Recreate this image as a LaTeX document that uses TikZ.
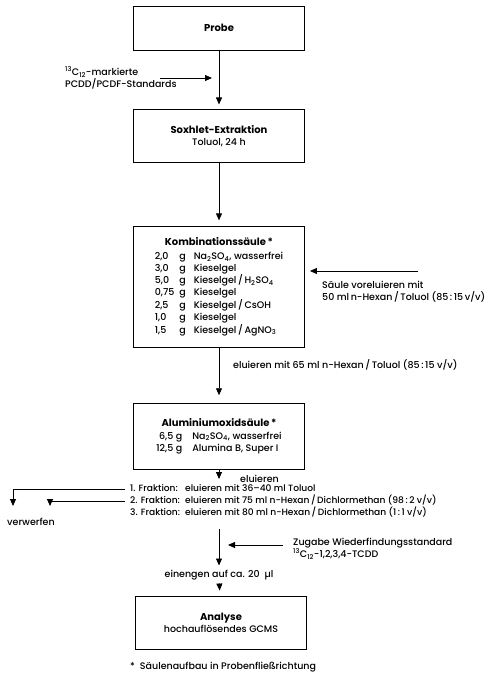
\documentclass[tikz,border=0pt]{standalone}
\usepackage{fontspec}
\setmainfont{Poppins}[UprightFont=* Medium,BoldFont=* Bold]
\usetikzlibrary{positioning,arrows.meta}
\tikzset{
  kasten/.style={rectangle,draw,line width=0.9pt,minimum width=171pt,align=center,inner sep=3pt},
  pfeil/.style={-{Triangle[length=7pt,width=6pt]},line width=0.8pt},
  zeile/.style={inner sep=0pt,anchor=mid west,font=\fontsize{9.1}{12}\selectfont},
  notiz/.style={inner sep=0pt,align=left,anchor=west},
}

\begin{document}
\begin{tikzpicture}[x=1pt,y=-1pt,font=\fontsize{9.5}{12}\selectfont]
  \useasboundingbox (0,0) rectangle (486,681);
  % Kaesten
  \node[kasten,minimum height=44pt] (probe) at (219,28) {{\fontsize{10}{12}\selectfont\bfseries Probe}};
  \node[kasten,minimum height=53pt,below=59pt of probe] (soxh) {{\fontsize{10}{14}\selectfont\bfseries Soxhlet-Extraktion}\\Toluol, 24 h};
  \node[kasten,minimum height=121pt,below=63pt of soxh] (kombi) {{\fontsize{10}{12}\selectfont\bfseries Kombinationssäule\,*}\\[4pt]
    \begin{tabular}{@{}l@{\hspace{5pt}}l@{\hspace{8pt}}l@{}}
      2,0 & g & Na\textsubscript{2}SO\textsubscript{4}, wasserfrei\\
      3,0 & g & Kieselgel\\
      5,0 & g & Kieselgel\,/\,H\textsubscript{2}SO\textsubscript{4}\\
      0,75 & g & Kieselgel\\
      2,5 & g & Kieselgel\,/\,CsOH\\
      1,0 & g & Kieselgel\\
      1,5 & g & Kieselgel\,/\,AgNO\textsubscript{3}
    \end{tabular}};
  \node[kasten,minimum height=66pt,below=55pt of kombi] (alox) {{\fontsize{10}{12}\selectfont\bfseries Aluminiumoxidsäule\,*}\\[3pt]
    \begin{tabular}{@{}r@{\hspace{10pt}}l@{}}
      6,5 g & Na\textsubscript{2}SO\textsubscript{4}, wasserfrei\\
      12,5 g & Alumina B, Super I
    \end{tabular}};
  \node[kasten,minimum height=53pt] (anal) at (221,622.5) {{\fontsize{10}{15}\selectfont\bfseries Analyse}\\hochauflösendes GCMS};

  % Zugaben und Beschriftungen
  \coordinate (stdanf) at (160,78);
  \coordinate (stdend) at (212,78);
  \node[notiz] (stdtext) at (65,78) {\textsuperscript{13}C\textsubscript{12}-markierte\\PCDD/PCDF-Standards};
  \coordinate (vor) at (418,271);
  \node[notiz] (vortext) at (322,292) {Säule voreluieren mit\\50 ml\,n-Hexan\,/\,Toluol (85\,:\,15\,v/v)};
  \node[notiz] (eluA) at (233,365) {eluieren mit 65 ml n-Hexan\,/\,Toluol (85\,:\,15 v/v)};
  \coordinate (eluend) at (219,479);
  \node[notiz] (eluB) at (240,479) {eluieren};

  % Fraktionen
  \node[zeile] (f1) at (130,489) {\makebox[55pt][l]{1. Fraktion:}eluieren mit 36–40 ml Toluol};
  \node[zeile] (f2) at (130,501) {\makebox[55pt][l]{2. Fraktion:}eluieren mit 75 ml n-Hexan\,/\,Dichlormethan (98\,:\,2 v/v)};
  \node[zeile] (f3) at (130,513) {\makebox[55pt][l]{3. Fraktion:}eluieren mit 80 ml n-Hexan\,/\,Dichlormethan (1\,:\,1 v/v)};
  \coordinate (weg1) at (13,506);
  \coordinate (weg2) at (50,506);
  \node (verw) at (31,522) {verwerfen};

  \coordinate (sammel) at (219,529);
  \coordinate (zug) at (283,545);
  \node[notiz] (zugtext) at (293,549) {Zugabe Wiederfindungsstandard\\\textsuperscript{13}C\textsubscript{12}-1,2,3,4-TCDD};
  \node (eng) at (219,575) {einengen auf ca. 20~~µl};
  \node[notiz] (fuss) at (130,667) {*~~Säulenaufbau in Probenfließrichtung};

  % Pfeile
  \draw[pfeil,shorten >=5pt] (probe) -- (soxh);
  \draw[pfeil] (stdanf) -- (stdend);
  \draw[pfeil,shorten >=6pt] (soxh) -- (kombi);
  \draw[pfeil,shorten >=5pt] (vor) -- (vor -| kombi.east);
  \draw[pfeil,shorten >=8pt] (kombi) -- (alox);
  \draw[pfeil] (alox.south) -- (eluend);
  \draw[pfeil] ([xshift=-5pt]f1.mid west) -| (weg1);
  \draw[pfeil] ([xshift=-5pt]f2.mid west) -| (weg2);
  \draw[pfeil,shorten >=1pt] (sammel) -- (eng);
  \draw[pfeil,shorten >=9pt] (zug) -- (zug -| sammel);
  \draw[pfeil,shorten >=5pt] (eng) -- (anal);
\end{tikzpicture}
\end{document}
